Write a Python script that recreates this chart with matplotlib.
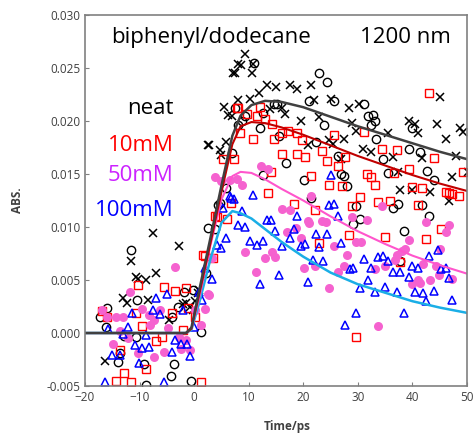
import matplotlib
matplotlib.use('Agg')
import matplotlib.pyplot as plt
import numpy as np

plt.rcParams['font.family'] = ['Open Sans', 'DejaVu Sans']

# Data (time in ps, absorbance in units of 1e-3)
neat_x_t = [-16.3, -13.0, -12.3, -11.5, -10.7, -10.2, -8.9, -8.4, -7.5, -6.9,
            -4.6, -2.8, -2.1, -1.5, -0.7, -0.2, 0.1, 0.7, 0.9,
            2.5, 2.8, 4.7, 5.0, 5.5, 5.9, 6.2, 6.9, 7.2, 7.5, 8.1, 8.1, 8.6,
            9.3, 10.2, 10.6, 10.7, 11.9, 13.3, 13.9, 15.0, 16.1, 16.7, 17.6,
            18.9, 19.5, 20.9, 21.5, 22.0, 22.9, 24.8, 25.1, 25.4, 26.9, 27.5,
            28.3, 29.0, 29.7, 30.3, 30.9, 32.5, 35.6, 36.5, 37.4, 37.8, 39.3,
            39.9, 40.5, 41.1, 41.7, 43.3, 44.5, 45.1, 46.1, 46.7, 47.3, 47.9,
            48.8, 49.2, 50.1]
neat_x_v = [-2.6, 3.3, 2.8, 6.8, 5.3, 5.1, 5.0, 3.1, 9.4, 5.7,
            1.2, 8.2, 2.7, 2.8, 2.5, 2.2, 3.0, 3.8, 4.1,
            17.7, 17.7, 17.3, 16.8, 21.3, 18.0, 20.6, 20.5, 24.5, 24.5, 25.4, 22.0, 25.3,
            26.3, 22.1, 24.5, 25.4, 22.6, 23.4, 21.1, 23.2, 21.2, 20.7, 23.4,
            23.0, 20.0, 17.7, 23.4, 22.0, 20.4, 18.2, 22.1, 17.8, 16.4, 18.3,
            21.2, 19.8, 19.1, 21.6, 17.4, 17.1, 18.9, 16.6, 15.2, 13.5, 20.0,
            13.5, 19.7, 18.9, 16.5, 13.3, 19.7, 22.3, 18.3, 12.5, 14.7, 16.7,
            19.3, 19.0, 15.2]

neat_o_t = [-17.2, -16.2, -16.0, -13.9, -13.5, -12.8, -11.5, -10.7, -10.4, -9.1,
            -8.9, -4.3, -4.1, -3.6, -3.0, -1.8, -0.6, -0.2, 1.3,
            2.2, 2.5, 3.8, 4.4, 4.7, 5.9, 6.9, 7.5, 8.1, 8.7,
            9.3, 10.9, 12.1, 12.7, 12.7, 14.6, 15.2, 15.5, 16.9, 20.1, 21.1,
            21.5, 22.3, 22.9, 23.8, 24.3, 25.7, 26.3, 26.9, 27.5, 28.1, 29.1,
            29.7, 30.4, 31.2, 31.9, 32.5, 32.8, 33.1, 33.4, 34.6, 35.6, 36.5,
            37.4, 37.8, 38.5, 39.3, 39.9, 41.3, 41.7, 42.6, 43.1, 43.9]
neat_o_v = [1.5, 0.6, 2.4, -2.7, -1.9, -0.3, 7.8, -0.35, 3.1, -2.9,
            -4.9, -4.1, 1.5, -2.9, 2.5, 3.9, -4.5, 4.1, 0.1,
            5.7, 9.9, 9.8, 12.1, 12.3, 13.7, 17.0, 21.2, 19.6, 20.0,
            20.5, 25.5, 19.3, 20.8, 14.9, 21.6, 21.6, 18.6, 16.0, 14.4, 21.9,
            12.7, 18.0, 24.5, 19.6, 23.7, 21.9, 16.7, 15.0, 14.8, 13.9, 10.3,
            12.0, 10.8, 21.6, 20.5, 19.6, 20.6, 20.0, 18.3, 16.4, 15.1, 11.8,
            12.2, 6.8, 9.6, 17.4, 19.3, 17.1, 12.1, 15.3, 11.0, 14.4]

mm10_t = [-16.9, -16.0, -14.3, -13.5, -12.9, -11.5, -10.3, -10.7, -9.5, -8.9,
          -6.9, -5.9, -5.5, -4.1, -3.5, -2.1, -1.5, -1.2, 0.1, 1.3,
          1.7, 1.9, 3.5, 3.8, 4.1, 6.1, 6.7, 5.3, 7.3, 7.8, 8.4,
          8.1, 9.6, 10.7, 11.5, 12.1, 12.9, 13.5, 14.1, 14.3, 14.6, 16.1,
          16.1, 17.2, 18.3, 18.8, 18.8, 19.8, 20.3, 21.5, 22.2, 22.9, 23.5,
          24.3, 24.8, 25.7, 26.3, 27.1, 27.7, 28.3, 28.9, 29.7, 30.4, 31.1,
          31.7, 32.5, 33.1, 33.7, 34.5, 34.9, 35.9, 36.6, 37.2, 37.8, 39.3,
          39.9, 41.1, 41.7, 42.5, 43.1, 43.9, 45.2, 46.1, 46.7, 47.3, 48.5,
          49.3]
mm10_v = [2.1, 1.5, -4.5, -1.6, -3.8, -4.6, 4.5, 1.9, 0.7, -3.4,
          -0.8, -0.35, 4.3, 1.9, 4.0, 0.3, 4.2, 2.4, 1.5, -4.6,
          7.4, 7.3, 7.1, 11.0, 10.9, 10.8, 12.3, 16.4, 16.4, 21.2, 18.9,
          21.2, 20.7, 18.3, 20.5, 21.3, 20.2, 13.2, 15.2, 19.7, 18.3, 18.9,
          16.9, 19.1, 12.2, 18.9, 16.9, 18.2, 16.6, 14.8, 11.6, 8.5, 17.2,
          16.2, 14.0, 18.7, 15.8, 13.9, 16.6, 9.2, 12.0, -0.4, 12.8, 19.0,
          15.0, 14.7, 14.0, 12.4, 17.4, 9.1, 12.5, 15.1, 17.3, 6.7, 15.5,
          13.8, 12.1, 13.7, 8.9, 22.6, 16.5, 9.8, 13.3, 13.2, 13.1, 12.9,
          15.2]

mm50_t = [-16.9, -15.9, -14.4, -13.0, -11.7, -13.6, -14.8, -12.1, -10.2, -9.5,
          -8.3, -8.0, -7.3, -6.2, -7.3, -5.5, -4.7, -3.5, -2.8, -2.4,
          -1.5, -0.7, 0.1, 1.3, 2.0, 2.6, 3.3, 2.8,
          3.8, 5.0, 6.5, 7.8, 8.7, 12.3, 13.5, 9.3, 11.3, 13.0, 14.3,
          14.9, 16.1, 17.0, 17.5, 18.6, 19.5, 20.1, 20.9, 21.1, 21.5, 22.2,
          23.5, 24.1, 24.8, 25.7, 26.3, 27.5, 28.1, 28.9, 29.7, 30.6, 31.7,
          33.1, 33.7, 34.4, 34.9, 36.8, 37.1, 38.0, 38.6, 39.3, 39.9, 41.1,
          41.4, 42.0, 42.5, 43.3, 44.4, 44.8, 45.1, 46.1, 46.7, 47.3]
mm50_v = [2.2, 1.5, 1.5, 1.5, 3.9, 0.2, -1.0, -0.5, -1.9, 2.3,
          1.7, 0.8, 1.2, 2.2, -2.3, -1.8, 0.5, 6.2, -0.4, -1.5,
          -0.7, -1.6, 2.2, 0.8, 2.3, 3.7, 7.1, 3.6,
          14.7, 14.3, 14.4, 14.5, 14.0, 15.8, 15.5, 7.6, 5.8, 7.1, 7.6,
          7.2, 11.7, 9.5, 11.6, 9.9, 9.0, 6.1, 10.6, 10.4, 12.9, 6.3,
          10.6, 10.5, 4.2, 8.2, 5.8, 6.3, 7.4, 10.9, 8.6, 8.6, 10.7,
          6.0, 0.7, 12.0, 6.3, 6.9, 7.4, 7.7, 7.9, 8.8, 4.6, 5.0,
          4.7, 6.5, 10.5, 5.0, 6.3, 5.5, 7.9, 9.5, 10.2, 5.1]

mm100_t = [-16.3, -15.7, -15.1, -13.5, -13.1, -12.2, -11.4, -10.9, -10.1, -9.6,
           -8.9, -8.3, -7.5, -6.9, -6.3, -5.5, -4.9, -4.1, -3.5, -2.4,
           -2.1, -1.3, -0.7, -0.1, 0.8, 1.5,
           2.0, 3.3, 4.1, 4.9, 5.3, 5.9, 6.5, 6.7, 7.3, 8.0, 8.7, 9.4,
           10.2, 10.7, 11.5, 12.1, 12.7, 13.3, 14.1, 14.9, 15.5, 16.1, 17.6,
           18.3, 18.9, 19.5, 20.3, 20.9, 21.7, 22.3, 22.9, 23.6, 24.3, 24.8,
           25.0, 25.7, 26.3, 26.9, 27.7, 28.5, 29.1, 29.6, 30.4, 31.1, 31.9,
           32.5, 33.1, 33.7, 34.6, 34.9, 35.6, 36.5, 37.2, 37.8, 38.5, 39.3,
           40.0, 40.5, 41.1, 41.9, 42.5, 43.1, 43.9, 44.6, 45.2, 46.1, 46.7,
           47.3]
mm100_v = [-4.6, 0.4, -2.1, -2.1, -0.1, 0.6, 1.9, -1.1, -2.8, -1.4,
           -0.2, -1.3, 2.2, 3.3, 1.8, -4.6, 3.7, -1.8, -0.7, -1.0,
           2.2, -1.0, -2.2, 0.6, 3.9, 3.1,
           6.1, 5.1, 8.3, 8.0, 11.8, 9.0, 12.9, 12.7, 12.6, 10.2, 11.5, 10.0,
           8.7, 13.0, 8.3, 4.6, 8.7, 10.7, 10.7, 9.6, 5.5, 8.2, 9.0,
           9.8, 11.0, 8.2, 8.4, 4.8, 6.9, 9.3, 8.1, 6.8, 9.3, 12.1,
           14.9, 12.2, 11.0, 8.5, 0.8, 6.0, 6.1, 1.9, 4.2, 7.0, 5.0,
           6.1, 3.9, 7.2, 7.3, 4.3, 6.8, 5.8, 3.9, 5.8, 1.9, 5.3,
           6.3, 3.9, 6.1, 3.8, 3.0, 7.3, 4.0, 7.8, 6.0, 6.1, 5.2,
           3.1]

# fitted curves, read as points
fit_t = [-20, -1.5, -0.5, 1, 3, 5, 7, 8.5, 10.5, 13, 16, 20, 25, 30, 35, 40, 45, 50]
fit_neat = [0, 0, 0.5, 4.2, 9.0, 13.9, 18.6, 20.5, 21.5, 21.9, 21.8, 21.3, 20.4,
            19.5, 18.7, 17.9, 17.1, 16.4]
fit_10 = [0, 0, 0.4, 3.8, 8.5, 13.3, 17.8, 19.5, 19.9, 19.8, 19.4, 18.7, 17.7,
          16.7, 15.8, 14.9, 14.1, 13.4]
fit_50 = [0, 0, 0.4, 3.5, 8.3, 12.6, 14.8, 15.2, 15.1, 14.5, 13.6, 12.5, 11.0,
          9.6, 8.4, 7.3, 6.4, 5.6]
fit_100 = [0, 0, 0.3, 3.0, 7.0, 10.4, 11.5, 11.3, 10.8, 9.8, 8.6, 7.2, 5.7,
           4.6, 3.8, 3.0, 2.4, 1.9]

labels = ['neat', '10mM', '50mM', '100mM']
label_colors = ['#000000', '#FF0000', '#CC22FF', '#0000FF']

s = 1e-3
fig = plt.figure(figsize=(4.73, 4.33), dpi=100)
ax = fig.add_axes([0.1797, 0.1085, 0.8076, 0.8569])

ms = 6
ax.plot(neat_o_t, np.array(neat_o_v) * s, 'o', ms=ms, mfc='none', mec='black', mew=1.0)
ax.plot(neat_x_t, np.array(neat_x_v) * s, 'x', ms=ms, color='black', mew=1.1)
ax.plot(mm10_t, np.array(mm10_v) * s, 's', ms=ms - 0.5, mfc='none', mec='#FF0000', mew=1.0)
ax.plot(mm50_t, np.array(mm50_v) * s, 'o', ms=ms + 0.5, color='#F562CF', mec='none')
ax.plot(mm100_t, np.array(mm100_v) * s, '^', ms=ms, mfc='none', mec='#0000FF', mew=1.1)

ax.plot(fit_t, np.array(fit_100) * s, color='#1AAEE6', lw=1.8)
ax.plot(fit_t, np.array(fit_50) * s, color='#FF55CC', lw=1.5)
ax.plot(fit_t, np.array(fit_10) * s, color='#C00000', lw=1.5)
ax.plot(fit_t, np.array(fit_neat) * s, color='#404040', lw=1.8)

ax.set_xlim(-20, 50)
ax.set_ylim(-0.005, 0.030)
ax.set_xticks(np.arange(-20, 51, 10))
ax.set_yticks(np.arange(-0.005, 0.0301, 0.005))
ax.set_yticklabels(['-0.005', '0.000', '0.005', '0.010', '0.015', '0.020', '0.025', '0.030'])
ax.tick_params(direction='in', length=3, color='#808080', labelsize=8.5,
               labelcolor='#404040')
for sp in ax.spines.values():
    sp.set_color('#808080')
    sp.set_linewidth(1.2)

ax.text(3.1, 0.0279, 'biphenyl/dodecane', fontsize=16, ha='center', va='center')
ax.text(38.8, 0.0279, '1200 nm', fontsize=16, ha='center', va='center')
ys = [0.0212, 0.0177, 0.0149, 0.0116]
for lab, c, y in zip(labels, label_colors, ys):
    ax.text(-3.8, y, lab, fontsize=16, color=c, ha='right', va='center')

fig.text(0.036, 0.538, 'ABS.', rotation=90, fontsize=8.5, fontweight='bold',
         color='#404040', ha='center', va='center')
fig.text(0.607, 0.014, 'Time/ps', fontsize=8.5, fontweight='bold',
         color='#404040', ha='center', va='center')

fig.savefig('out.png', dpi=100)
